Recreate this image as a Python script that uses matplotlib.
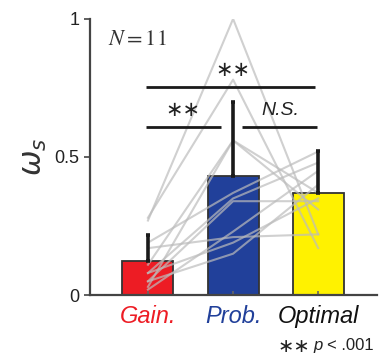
import numpy as np
import matplotlib.pyplot as plt

conditions = ['Gain.', 'Prob.', 'Optimal']
label_colors = ['#ED1C24', '#21409A', '#111111']
bar_colors = ['#ED1C24', '#21409A', '#FFF200']

mean_ws = [0.123, 0.43, 0.37]
err_ws = [0.094, 0.27, 0.15]

# one row per subject: Gain, Prob, Optimal
subjects = [
    [0.27, 1.00, 0.22],
    [0.28, 0.78, 0.17],
    [0.03, 0.56, 0.31],
    [0.11, 0.56, 0.37],
    [0.19, 0.37, 0.52],
    [0.08, 0.35, 0.48],
    [0.05, 0.34, 0.34],
    [0.02, 0.23, 0.45],
    [0.17, 0.21, 0.22],
    [0.08, 0.19, 0.35],
    [0.05, 0.15, 0.40],
]

plt.rcParams['font.family'] = ['Liberation Sans', 'DejaVu Sans']

fig = plt.figure(figsize=(3.8, 3.56), dpi=100)
ax = fig.add_axes([0.237, 0.171, 0.755, 0.776])

x = np.arange(1, len(conditions) + 1)
ax.bar(x, mean_ws, width=0.6, color=bar_colors, edgecolor='#333333',
       linewidth=1.3, zorder=1)

for s in subjects:
    ax.plot(x, s, color='#bcbcbc', alpha=0.7, lw=1.5, zorder=2)

ax.errorbar(x, mean_ws, yerr=[np.zeros(3), err_ws], fmt='none',
            ecolor='#1a1a1a', elinewidth=2.6, capsize=1.5, capthick=2.6,
            zorder=3)

# significance bars
sig_kw = dict(color='#1a1a1a', lw=2.0, solid_capstyle='butt')
ax.plot([0.976, 2.96], [0.754, 0.754], **sig_kw)
ax.plot([0.976, 1.86], [0.609, 0.609], **sig_kw)
ax.plot([2.11, 2.99], [0.609, 0.609], **sig_kw)
star_kw = dict(ha='center', va='center', fontsize=15, family='DejaVu Sans',
               color='#222222')
ax.text(2.0, 0.815, '\u2217\u2217', **star_kw)
ax.text(1.41, 0.67, '\u2217\u2217', **star_kw)
ax.text(2.55, 0.667, 'N.S.', ha='center', va='center', fontsize=14,
        style='italic', color='#222222')

ax.text(0.53, 0.925, r'$N=11$', fontsize=16, color='#333333', va='center',
        math_fontfamily='stix')

ax.set_xlim(0.32, 3.69)
ax.set_ylim(0, 1)
ax.set_yticks([0, 0.5, 1])
ax.set_yticklabels(['0', '0.5', '1'])
ax.set_xticks(x)
ax.set_xticklabels(conditions, style='italic', fontsize=17)

ax.tick_params(axis='y', direction='out', length=4, width=1.2,
               colors='#444444', labelsize=13, labelcolor='#222222')
ax.tick_params(axis='x', direction='in', length=3, width=1.2,
               colors='#666666', pad=7)
for lbl, c in zip(ax.get_xticklabels(), label_colors):
    lbl.set_color(c)

for side in ['top', 'right']:
    ax.spines[side].set_visible(False)
for side in ['left', 'bottom']:
    ax.spines[side].set_linewidth(1.6)
    ax.spines[side].set_color('#444444')

ax.set_ylabel(r'$\omega_s$', fontsize=22, color='#333333', labelpad=4,
              math_fontfamily='dejavusans')

fig.text(0.73, 0.028, '\u2217\u2217', fontsize=14, family='DejaVu Sans',
         color='#222222', va='center')
fig.text(0.825, 0.03, 'p', fontsize=12, style='italic', color='#222222',
         va='center')
fig.text(0.86, 0.03, '< .001', fontsize=12, color='#222222', va='center')

fig.savefig('out.png', dpi=100)
